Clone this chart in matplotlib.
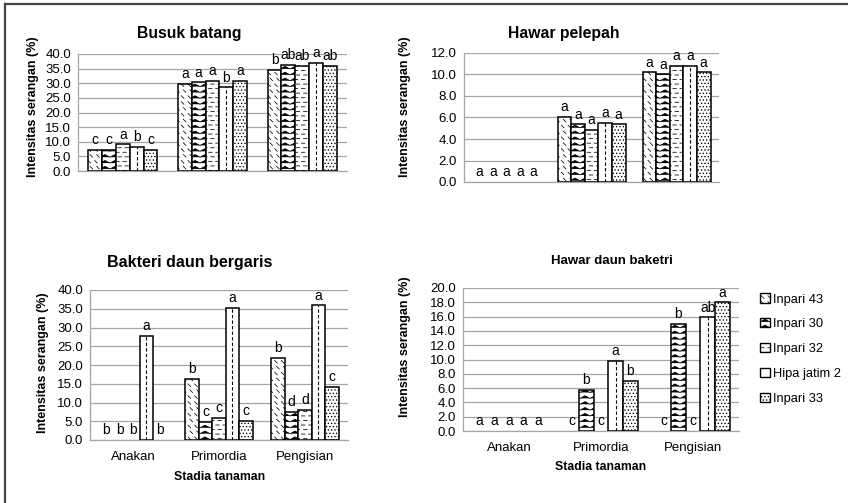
import warnings
import numpy as np
import matplotlib
matplotlib.use("Agg")
import matplotlib.pyplot as plt
from matplotlib import hatch as mhatch
from matplotlib.path import Path
from matplotlib.patches import Patch
from matplotlib.lines import Line2D

warnings.filterwarnings("ignore")

plt.rcParams['font.family'] = ['Liberation Sans', 'DejaVu Sans']
plt.rcParams['hatch.linewidth'] = 0.55

stages = ['Anakan', 'Primordia', 'Pengisian']
varieties = ['Inpari 43', 'Inpari 30', 'Inpari 32', 'Hipa jatim 2', 'Inpari 33']

# values per variety, one entry per stage
busuk_vals = [[7.2, 29.8, 34.6],
              [7.2, 30.3, 36.4],
              [9.1, 30.7, 35.9],
              [8.2, 28.6, 37.0],
              [7.1, 30.8, 35.9]]
busuk_let = [['c', 'a', 'b'],
             ['c', 'a', 'ab'],
             ['a', 'a', 'ab'],
             ['b', 'b', 'a'],
             ['c', 'a', 'ab']]

pelepah_vals = [[0, 6.05, 10.2],
                [0, 5.35, 10.0],
                [0, 4.85, 10.8],
                [0, 5.5, 10.8],
                [0, 5.35, 10.2]]
pelepah_let = [['a', 'a', 'a']] * 5

bergaris_vals = [[0, 16.4, 21.8],
                 [0, 4.9, 7.5],
                 [0, 5.8, 8.1],
                 [27.8, 35.3, 35.9],
                 [0, 5.2, 14.2]]
bergaris_let = [['b', 'b', 'b'],
                ['b', 'c', 'd'],
                ['b', 'c', 'd'],
                ['a', 'a', 'a'],
                ['b', 'c', 'c']]

baketri_vals = [[0, 0, 0],
                [0, 5.8, 15.0],
                [0, 0, 0],
                [0, 9.8, 15.9],
                [0, 7.0, 18.0]]
baketri_let = [['a', 'c', 'c'],
               ['a', 'b', 'b'],
               ['a', 'c', 'c'],
               ['a', 'a', 'ab'],
               ['a', 'b', 'a']]


# extra hatch shapes: 'z' zigzag, 'h' staggered dashes, 'd' short diagonal dashes
class ZigZagHatch(mhatch.HatchPatternBase):
    def __init__(self, hatch, density):
        self.rows = 17 if 'z' in hatch else 0
        self.teeth = 10
        self.num_vertices = self.rows * (2 * self.teeth + 1)

    def set_vertices_and_codes(self, vertices, codes):
        n = 2 * self.teeth + 1
        xs = np.linspace(0.0, 1.0, n)
        amp = 0.026 * ((np.arange(n) % 2) * 2 - 1) / 2
        for r in range(self.rows):
            y = (r + 0.5) / self.rows
            vertices[r * n:(r + 1) * n, 0] = xs
            vertices[r * n:(r + 1) * n, 1] = y + amp
            codes[r * n] = Path.MOVETO
            codes[r * n + 1:(r + 1) * n] = Path.LINETO


class DashHatch(mhatch.HatchPatternBase):
    def __init__(self, hatch, density):
        self.kind = 'h' if 'h' in hatch else ('d' if 'd' in hatch else None)
        if self.kind == 'h':
            self.rows, self.cols = 22, 14
        elif self.kind == 'd':
            self.rows, self.cols = 17, 15
        else:
            self.rows, self.cols = 0, 0
        self.num_vertices = 2 * self.rows * self.cols

    def set_vertices_and_codes(self, vertices, codes):
        i = 0
        for r in range(self.rows):
            y = (r + 0.5) / self.rows
            shift = 0.5 * (r % 2)
            for c in range(self.cols):
                x = (c + 0.2 + shift * 0.6) / self.cols
                if self.kind == 'h':
                    vertices[i] = (x, y)
                    vertices[i + 1] = (x + 0.035, y)
                else:
                    vertices[i] = (x, y + 0.013)
                    vertices[i + 1] = (x + 0.026, y - 0.013)
                codes[i] = Path.MOVETO
                codes[i + 1] = Path.LINETO
                i += 2


mhatch._hatch_types.append(ZigZagHatch)
mhatch._hatch_types.append(DashHatch)

hatches = ['d', 'z', 'h', '', '.....']

W, H = 848, 503
fig = plt.figure(figsize=(W / 100, H / 100), dpi=100)


def px_rect(x0, y0, x1, y1):
    return [x0 / W, 1 - y1 / H, (x1 - x0) / W, (y1 - y0) / H]


def draw_chart(rect, vals, letters, ymax, step, width, xlabels):
    ax = fig.add_axes(rect)
    x = np.arange(len(stages))
    n = len(varieties)
    for i in range(n):
        pos = x + (i - (n - 1) / 2) * width
        bars = ax.bar(pos, vals[i], width, color='white', edgecolor='black',
                      linewidth=1.1, hatch=hatches[i], zorder=3)
        if varieties[i] == 'Hipa jatim 2':
            ax.vlines(pos, 0, vals[i], colors='black', linewidth=0.8,
                      linestyles=(0, (3, 2)), zorder=4)
        for b, lab in zip(bars, letters[i]):
            if b.get_height() == 0:
                b.set_visible(False)
            ax.annotate(lab, (b.get_x() + b.get_width() / 2, b.get_height()),
                        xytext=(0, 2), textcoords='offset points',
                        ha='center', va='bottom', fontsize=10, zorder=5)
    ax.set_ylim(0, ymax)
    ax.set_xlim(-0.5, len(stages) - 0.5)
    ax.set_yticks(np.arange(0, ymax + step / 2, step))
    ax.yaxis.set_major_formatter(matplotlib.ticker.FormatStrFormatter('%.1f'))
    ax.grid(axis='y', color='#a6a6a6', linewidth=0.9, zorder=0)
    for s in ['top', 'right']:
        ax.spines[s].set_visible(False)
    for s in ['left', 'bottom']:
        ax.spines[s].set_color('#a6a6a6')
        ax.spines[s].set_linewidth(0.9)
    ax.tick_params(length=0, labelsize=9.5, pad=5)
    ax.set_xticks(x)
    if xlabels:
        ax.set_xticklabels(stages, fontsize=9.5)
        ax.tick_params(axis='x', pad=8)
    else:
        ax.set_xticklabels([])
    return ax


draw_chart(px_rect(78, 54, 347, 171), busuk_vals, busuk_let, 40, 5, 0.154, False)
draw_chart(px_rect(464, 53, 719, 182), pelepah_vals, pelepah_let, 12, 2, 0.16, False)
draw_chart(px_rect(90, 290, 348, 440), bergaris_vals, bergaris_let, 40, 5, 0.156, True)
draw_chart(px_rect(463, 288, 739, 431), baketri_vals, baketri_let, 20, 2, 0.16, True)


def ftext(x, y, s, **kw):
    fig.text(x / W, 1 - y / H, s, ha='center', va='center', **kw)


ftext(189, 33, 'Busuk batang', fontsize=11.3, fontweight='bold')
ftext(564, 33, 'Hawar pelepah', fontsize=11.3, fontweight='bold')
ftext(190, 263, 'Bakteri daun bergaris', fontsize=11.5, fontweight='bold')
ftext(612, 261, 'Hawar daun baketri', fontsize=9.5, fontweight='bold')

ylab = 'Intensitas serangan (%)'
ftext(33, 107, ylab, fontsize=9, fontweight='bold', rotation=90)
ftext(405, 107, ylab, fontsize=9, fontweight='bold', rotation=90)
ftext(43, 363, ylab, fontsize=9, fontweight='bold', rotation=90)
ftext(405, 347, ylab, fontsize=9, fontweight='bold', rotation=90)

ftext(220, 477, 'Stadia tanaman', fontsize=8.8, fontweight='bold')
ftext(601, 467, 'Stadia tanaman', fontsize=8.8, fontweight='bold')

handles = [Patch(facecolor='white', edgecolor='black', hatch=h, linewidth=1.0)
           for h in hatches]
fig.legend(handles, varieties, loc='upper left',
           bbox_to_anchor=(754 / W, 1 - 287 / H), frameon=False,
           fontsize=9.3, handlelength=0.7, handleheight=0.7, handletextpad=0.25,
           labelspacing=1.0, borderpad=0)

# outer frame: top and left edges
fig.add_artist(Line2D([5 / W, 1], [1 - 3.5 / H] * 2, color='#444444',
                      linewidth=1.6, transform=fig.transFigure))
fig.add_artist(Line2D([5 / W] * 2, [0, 1 - 3.5 / H], color='#444444',
                      linewidth=1.6, transform=fig.transFigure))

fig.savefig('out.png', dpi=100)
